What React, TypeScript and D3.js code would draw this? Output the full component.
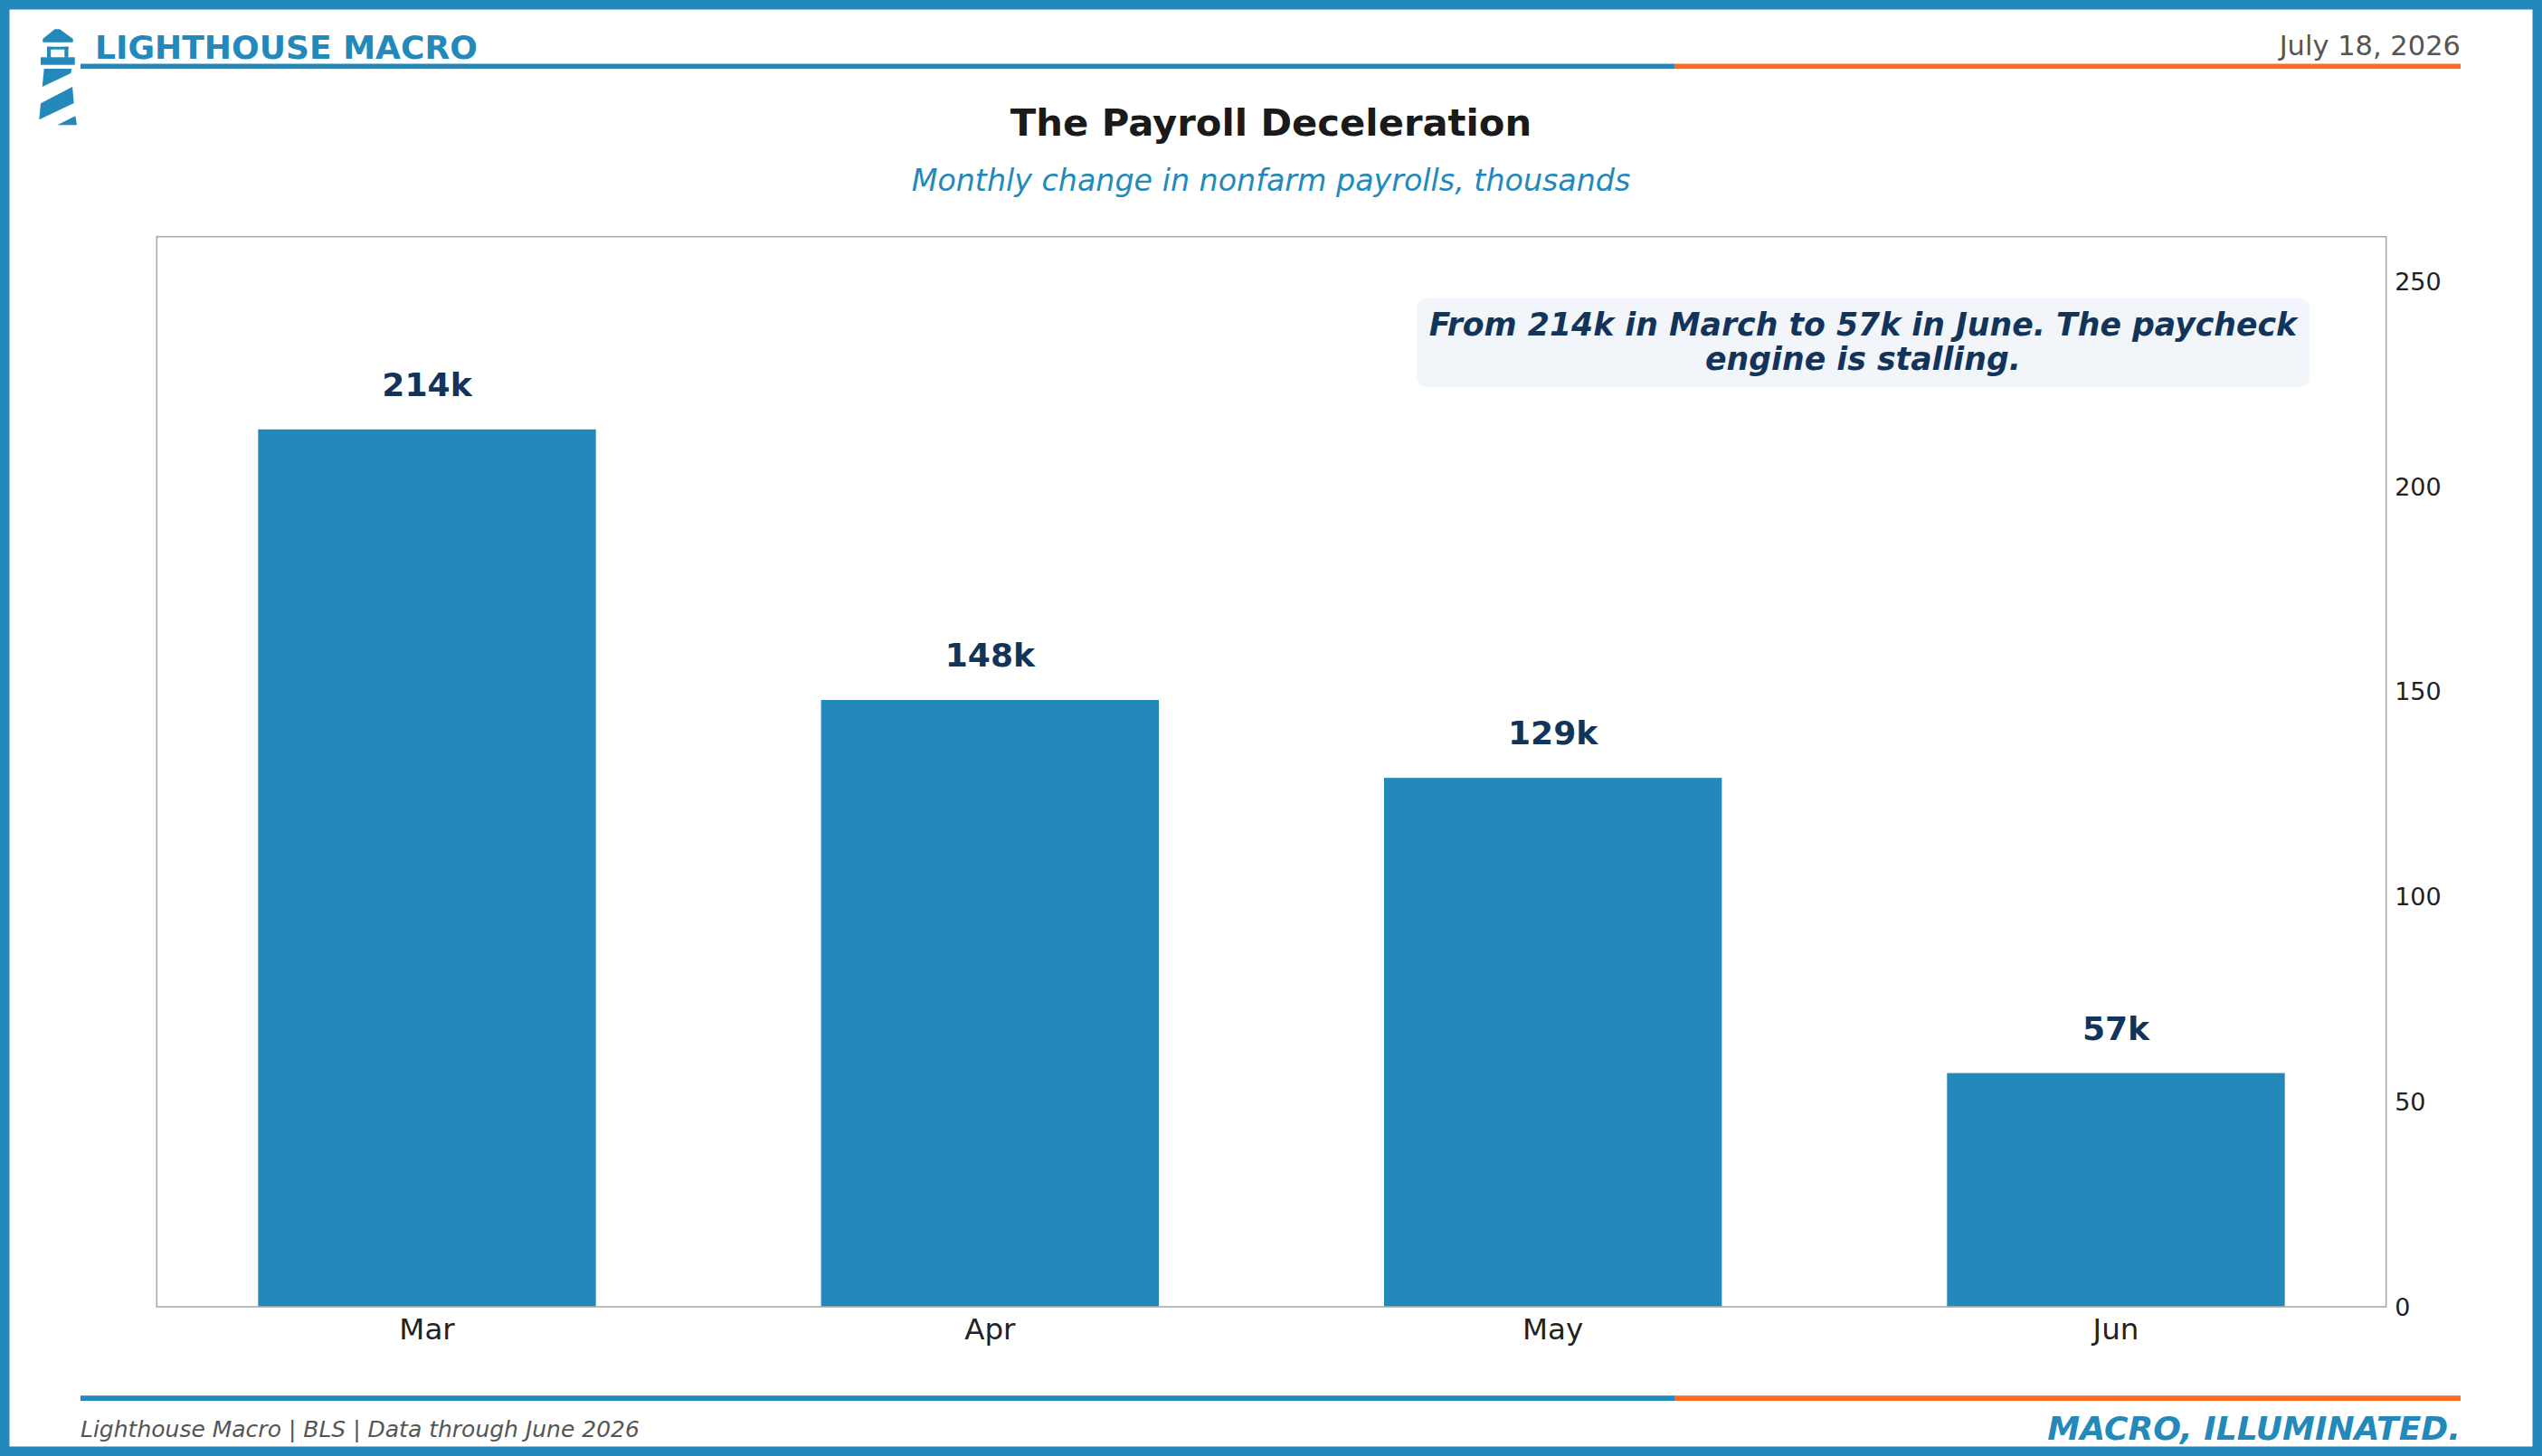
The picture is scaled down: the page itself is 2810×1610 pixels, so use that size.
import React from "react";
import * as d3 from "d3";

const months = ["Mar", "Apr", "May", "Jun"];
const payrolls = [214, 148, 129, 57];
const valueLabels = ["214k", "148k", "129k", "57k"];
const yTicks = [0, 50, 100, 150, 200, 250];
const yMax = 261;

const W = 2810;
const H = 1610;
const BLUE = "#2389BA";
const ORANGE = "#FF6A21";
const NAVY = "#13345A";
const FONT = "'DejaVu Sans', sans-serif";

export default function App() {
  const plotLeft = 173.3;
  const plotRight = 2637.7;
  const plotTop = 261.7;
  const plotBottom = 1445;

  const x = d3.scaleLinear().domain([-0.48, months.length - 1 + 0.48]).range([plotLeft, plotRight]);
  const y = d3.scaleLinear().domain([0, yMax]).range([plotBottom, plotTop]);
  const barW = x(0.6) - x(0);

  const splitX = 1851;

  return (
    <svg
      width={W}
      height={H}
      viewBox={`0 0 ${W} ${H}`}
      style={{ position: "absolute", left: 0, top: 0, display: "block", background: "#fff" }}
      fontFamily={FONT}
    >
      <rect x={0} y={0} width={W} height={H} fill="#fff" />
      {/* outer border */}
      <rect x={5.25} y={5.25} width={W - 10.5} height={H - 10.5} fill="none" stroke={BLUE} strokeWidth={10.5} />

      {/* logo */}
      <g fill={BLUE}>
        <polygon points="47.3,43 60.5,32.3 66,32.3 80.7,43 80.7,46.7 47.3,46.7" />
        <rect x={52} y={51.7} width={23.7} height={3} />
        <rect x={52} y={51.7} width={4.2} height={12} />
        <rect x={71.3} y={51.7} width={4.2} height={12} />
        <rect x={45} y={63.3} width={37.7} height={8.4} />
        <polygon points="48.7,76 79.3,76 78.3,81 46.7,96" />
        <polygon points="45,114.3 80,96 81.7,114 43.3,132.3" />
        <polygon points="63.3,138.3 83.3,128.3 85,138.3" />
      </g>

      {/* header */}
      <text x={105} y={65} fontSize={36.1} fontWeight="bold" fill={BLUE}>LIGHTHOUSE MACRO</text>
      <text x={2720} y={61} fontSize={30.5} fill="#555" textAnchor="end">July 18, 2026</text>
      <rect x={89} y={70.5} width={splitX - 89} height={5.6} fill={BLUE} />
      <rect x={splitX} y={70.5} width={2720 - splitX} height={5.6} fill={ORANGE} />

      {/* title */}
      <text x={1405} y={150} fontSize={41.7} fontWeight="bold" fill="#1a1a1a" textAnchor="middle">The Payroll Deceleration</text>
      <text x={1405} y={211} fontSize={33.3} fontStyle="italic" fill={BLUE} textAnchor="middle">Monthly change in nonfarm payrolls, thousands</text>

      {/* bars */}
      {payrolls.map((v, i) => (
        <rect key={months[i]} x={x(i) - barW / 2} y={y(v)} width={barW} height={y(0) - y(v)} fill={BLUE} />
      ))}

      {/* frame */}
      <rect x={plotLeft} y={plotTop} width={plotRight - plotLeft} height={plotBottom - plotTop} fill="none" stroke="#aaaaaa" strokeWidth={1.6} />

      {/* value labels */}
      {payrolls.map((v, i) => (
        <text key={"l" + i} x={x(i)} y={y(v) - 37} fontSize={36.1} fontWeight="bold" fill={NAVY} textAnchor="middle">
          {valueLabels[i]}
        </text>
      ))}

      {/* x tick labels */}
      {months.map((m, i) => (
        <text key={"x" + m} x={x(i)} y={1481} fontSize={32.5} fill="#222" textAnchor="middle">{m}</text>
      ))}

      {/* y tick labels (right) */}
      {yTicks.map((t) => (
        <text key={"y" + t} x={plotRight + 9.5} y={y(t)} fontSize={27} fill="#222" dominantBaseline="central">{t}</text>
      ))}

      {/* annotation */}
      <rect x={1566} y={330} width={987} height={98} rx={11} ry={11} fill="#F2F5F9" />
      <text x={2059.5} y={371} fontSize={34.7} fontWeight="bold" fontStyle="italic" fill={NAVY} textAnchor="middle">
        From 214k in March to 57k in June. The paycheck
      </text>
      <text x={2059.5} y={409} fontSize={34.7} fontWeight="bold" fontStyle="italic" fill={NAVY} textAnchor="middle">
        engine is stalling.
      </text>

      {/* footer */}
      <rect x={89} y={1543.2} width={splitX - 89} height={5.8} fill={BLUE} />
      <rect x={splitX} y={1543.2} width={2720 - splitX} height={5.8} fill={ORANGE} />
      <text x={89} y={1589} fontSize={25} fontStyle="italic" fill="#555">Lighthouse Macro | BLS | Data through June 2026</text>
      <text x={2720} y={1592} fontSize={36.1} fontWeight="bold" fontStyle="italic" fill={BLUE} textAnchor="end">MACRO, ILLUMINATED.</text>
    </svg>
  );
}
